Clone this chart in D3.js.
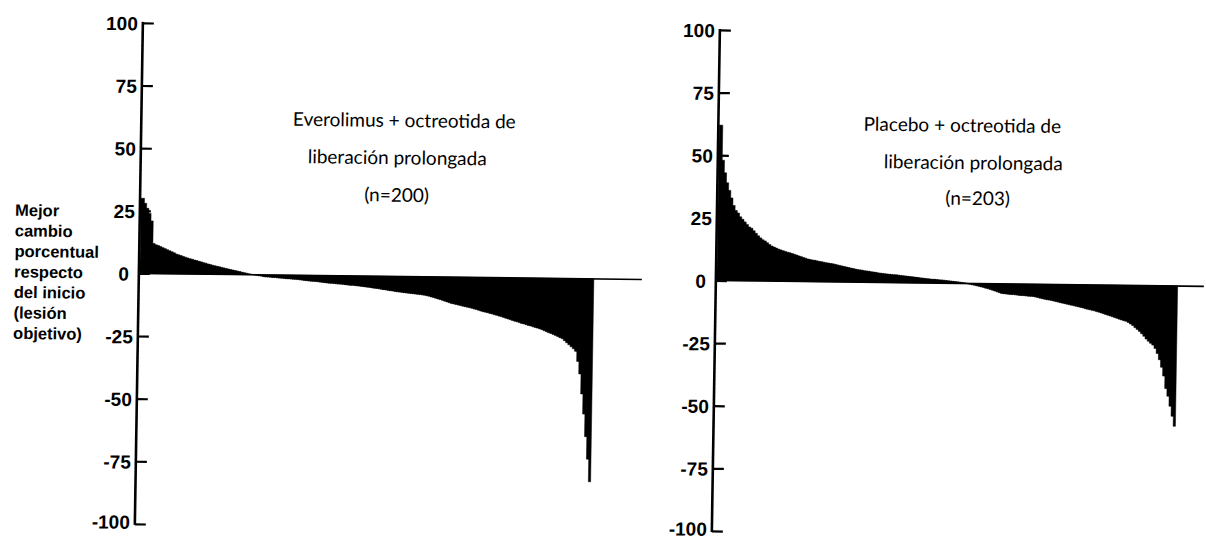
<!DOCTYPE html>
<html>
<head>
<meta charset="utf-8">
<script src="https://cdn.jsdelivr.net/npm/d3@7"></script>
<style>
  html, body { margin: 0; padding: 0; background: #fff; }
  svg { display: block; }
  .tick-label { font-family: "Liberation Sans", Arial, sans-serif; font-weight: bold; font-size: 19px; fill: #000; }
  .ylab { font-family: "Liberation Sans", Arial, sans-serif; font-weight: bold; font-size: 16.5px; fill: #000; }
  .title { font-family: Lato, "Open Sans", sans-serif; font-size: 19px; fill: #000; }
</style>
</head>
<body>
<svg id="chart" width="1206" height="541"></svg>
<script>
// Best percentage change from baseline, one value per patient, sorted high to low
const everolimusValues = [
  30, 28, 26, 24, 21,
  12,
  11.5, 11.2, 10.8, 10.4, 10, 9.6, 9.2, 8.8, 8.4,
  7.9, 7.6, 7.3, 7, 6.7, 6.4,
  6.1, 5.9, 5.6, 5.4, 5.1, 4.9, 4.6, 4.4, 4.1,
  3.9, 3.6, 3.4, 3.2, 3, 2.8, 2.6, 2.4, 2.2, 2, 1.8, 1.6,
  1.4, 1.2, 1, 0.8, 0.6, 0.4, 0.2, 0.1,
  -0.1, -0.2, -0.4, -0.5,
  -0.7, -0.8, -0.8, -0.9, -1, -1, -1.1, -1.2, -1.2, -1.3, -1.4, -1.4, -1.5, -1.6, -1.6,
  -1.7, -1.8, -1.9, -2, -2.1, -2.2, -2.3, -2.3, -2.4, -2.5, -2.6, -2.7, -2.8, -2.9, -3,
  -3, -3.1, -3.2, -3.3, -3.3, -3.4, -3.5, -3.6, -3.7, -3.7, -3.8, -3.9, -4, -4.1,
  -4.2, -4.3, -4.4, -4.5, -4.7, -4.8, -4.9, -5, -5.2, -5.3, -5.4, -5.6, -5.7, -5.8, -6,
  -6.1, -6.2, -6.3, -6.4, -6.5, -6.6, -6.7, -6.8, -6.9, -7, -7.1, -7.2,
  -7.3, -7.5, -7.7, -8, -8.2, -8.5, -8.8, -9, -9.3, -9.6, -9.9, -10.2,
  -10.5, -10.7, -10.9, -11.1, -11.3, -11.5, -11.7, -11.9, -12.1, -12.3, -12.6, -12.8, -13.1, -13.4,
  -13.6, -13.8, -14, -14.3, -14.5, -14.8, -15, -15.3, -15.5, -15.8, -16.1, -16.4, -16.7, -17, -17.3,
  -17.5, -17.8, -18.1, -18.3, -18.6, -18.9, -19.1, -19.4, -19.7, -19.9, -20.2, -20.5,
  -20.9, -21.3, -21.7, -22, -22.4, -22.8, -23.2, -23.6, -24,
  -24.8, -25.6, -26.4, -27.2, -28,
  -29, -33, -38, -46, -54, -63, -72, -81
];

const placeboValues = [
  62, 48, 43, 39, 36, 33, 30, 28, 27, 25.5, 24.5, 23.5, 22.5, 21.5, 21, 20,
  19, 18, 17.2, 16.5, 16, 15.3, 14.6, 14, 13.6, 13.2, 12.8, 12.5, 12.2, 11.9, 11.6, 11.4,
  11.1, 10.8, 10.5, 10.2, 9.9, 9.6, 9.3, 9,
  8.8,
  8.6, 8.5, 8.3, 8.1, 8, 7.8, 7.6, 7.5, 7.3,
  7.2,
  7, 6.8, 6.6, 6.4, 6.2, 6, 5.8, 5.6, 5.4, 5.2,
  5,
  4.9, 4.8, 4.6, 4.5, 4.4, 4.2, 4.1, 4, 3.8, 3.7, 3.6,
  3.5,
  3.4, 3.3, 3.2, 3.1, 3.1, 3, 2.9,
  2.8, 2.7, 2.6, 2.5, 2.4, 2.3, 2.2, 2.1, 2, 1.9, 1.8, 1.7, 1.6, 1.5, 1.5, 1.4, 1.3, 1.3, 1.2,
  1.1, 1, 0.9, 0.8, 0.7, 0.6, 0.5, 0.4, 0.3, 0.1,
  -0.1, -0.3, -0.5, -0.7, -0.9, -1.1, -1.3, -1.5, -1.8, -2, -2.3, -2.6, -2.9, -3.2, -3.5,
  -3.8, -3.9, -4, -4.1, -4.2, -4.2, -4.3, -4.4, -4.5, -4.5, -4.6, -4.7, -4.8, -4.8,
  -4.9, -5.1, -5.3, -5.5, -5.7, -5.9, -6.1, -6.2, -6.4, -6.6, -6.8, -7, -7.2, -7.4, -7.6,
  -7.8, -8, -8.2, -8.4, -8.6, -8.8, -9, -9.2, -9.5, -9.7, -9.9, -10.1, -10.3, -10.6,
  -10.8, -11.1, -11.4, -11.7, -12, -12.3, -12.6, -12.9, -13.2, -13.5, -13.8, -14.1,
  -14.3, -14.8, -15.4, -16, -16.8, -17.5, -18.3, -19.2, -20.2, -21.3,
  -22.2, -23, -23.7, -25, -27, -29.5, -32.5,
  -36, -41, -44, -48, -52, -56
];

const tickValues = [100, 75, 50, 25, 0, -25, -50, -75, -100];
const tickLabels = ["100", "75", "50", "25", "0", "-25", "-50", "-75", "-100"];

const yLabelLines = ["Mejor", "cambio", "porcentual", "respecto", "del inicio", "(lesión", "objetivo)"];

const leftTitle = ["Everolimus + octreotida de", "liberación prolongada", "(n=200)"];
const rightTitle = ["Placebo + octreotida de", "liberación prolongada", "(n=203)"];

const svg = d3.select("#chart");
// The page sits very slightly askew, as on a scanned sheet
const root = svg.append("g")
  .attr("transform", "matrix(1,0.0122,-0.016,1,4.32,-7.32)");

const y = d3.scaleLinear().domain([-100, 100]).range([529.5, 28.5]);

function panel(values, cfg) {
  const g = root.append("g");
  const x = d3.scaleBand()
    .domain(d3.range(values.length))
    .range([cfg.barStart, cfg.barEnd])
    .paddingInner(0).paddingOuter(0);

  // zero line running past the last bar
  g.append("line")
    .attr("x1", cfg.axisX).attr("x2", cfg.lineEnd)
    .attr("y1", y(0)).attr("y2", y(0))
    .attr("stroke", "#000").attr("stroke-width", 1.6);

  // solid bars: each one overlaps its right neighbour so no hairline gaps show
  const last = values.length - 1;
  g.append("g").selectAll("rect")
    .data(values)
    .join("rect")
    .attr("x", (d, i) => x(i))
    .attr("width", (d, i) => x.bandwidth() + (i < last ? 1.2 : 0))
    .attr("y", d => y(Math.max(0, d)))
    .attr("height", d => Math.abs(y(d) - y(0)))
    .attr("fill", "#000")
    .attr("stroke", "#000")
    .attr("stroke-width", 0.5);

  // vertical axis with ticks pointing into the plot
  const axis = d3.axisRight(y)
    .tickValues(tickValues)
    .tickSize(11)
    .tickFormat("");
  const ag = g.append("g")
    .attr("transform", `translate(${cfg.axisX},0)`)
    .call(axis);
  ag.select(".domain").remove();
  ag.selectAll(".tick line").attr("stroke", "#000").attr("stroke-width", 2.2);
  ag.append("line")
    .attr("x1", 0).attr("x2", 0)
    .attr("y1", y(100) - 1).attr("y2", y(-100) + 1)
    .attr("stroke", "#000").attr("stroke-width", 2.6);

  // the zero label sits a little further from the axis than the others
  g.append("g").selectAll("text")
    .data(tickValues)
    .join("text")
    .attr("class", "tick-label")
    .attr("x", d => cfg.axisX - (d === 0 ? 10 : 5))
    .attr("y", d => y(d) + (d === -100 ? 5 : 7.5))
    .attr("text-anchor", "end")
    .text((d, i) => tickLabels[i]);

  g.append("g").selectAll("text")
    .data(cfg.title)
    .join("text")
    .attr("class", "title")
    .attr("x", (d, i) => cfg.titleX[i])
    .attr("y", (d, i) => cfg.titleY[i])
    .attr("text-anchor", "middle")
    .text(d => d);
}

panel(everolimusValues, {
  axisX: 139, barStart: 140, barEnd: 594, lineEnd: 642,
  title: leftTitle, titleX: [402, 395.5, 395.5], titleY: [129.5, 166.8, 204.2]
});

panel(placeboValues, {
  axisX: 716, barStart: 717, barEnd: 1177.8, lineEnd: 1204,
  title: rightTitle, titleX: [960, 971.5, 976.5], titleY: [127.5, 164.8, 200.4]
});

root.append("g").selectAll("text")
  .data(yLabelLines)
  .join("text")
  .attr("class", "ylab")
  .attr("x", 14.3)
  .attr("y", (d, i) => 223 + 20.5 * i)
  .text(d => d);
</script>
</body>
</html>
